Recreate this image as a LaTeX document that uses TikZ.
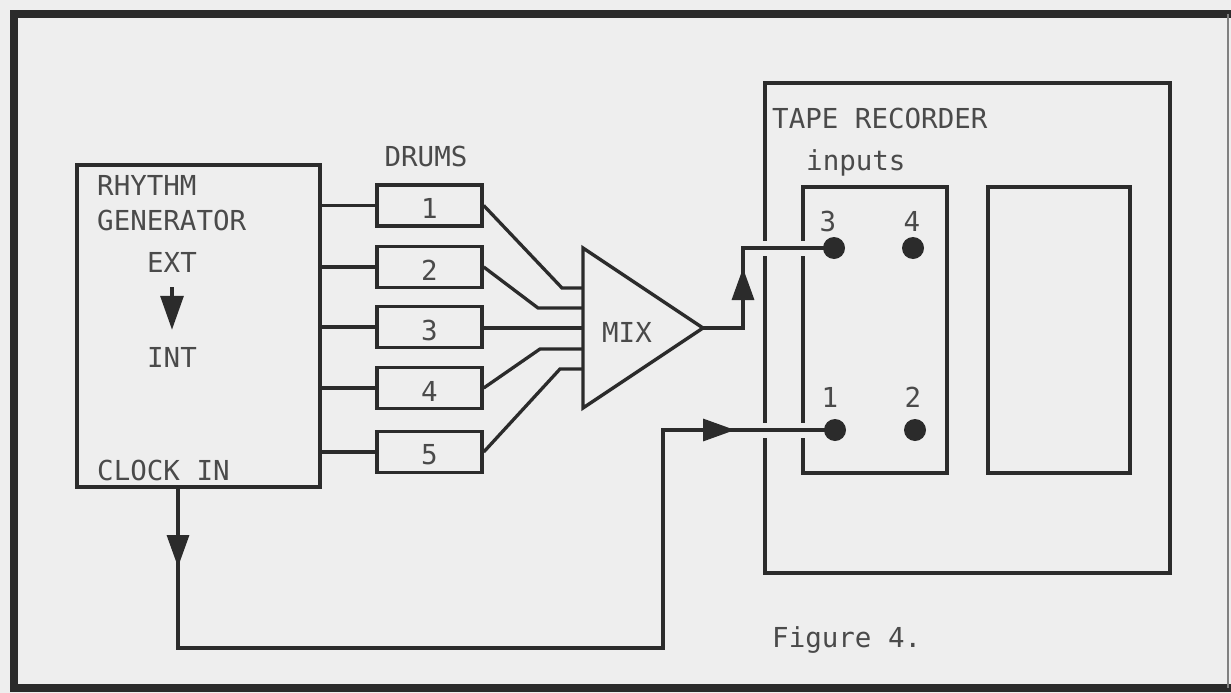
\documentclass[tikz,border=0pt]{standalone}
\usepackage{fontspec}
\setmonofont{DejaVu Sans Mono}
\usetikzlibrary{arrows.meta}
\definecolor{paper}{HTML}{EEEEEE}
\definecolor{ink}{HTML}{2B2B2B}
\definecolor{txt}{HTML}{4A4A4A}
\begin{document}
\begin{tikzpicture}[x=1pt,y=-1pt,
  wire/.style={draw=ink,line width=3.3pt},
  boxline/.style={draw=ink,line width=3.4pt},
  lbl/.style={font=\ttfamily\fontsize{27.5}{30}\selectfont,text=txt,inner sep=0pt},
  lblw/.style={lbl,anchor=base west},
  lblb/.style={lbl,anchor=base},
  gap/.style={draw=paper,line width=15pt},
  tip/.style={-{Triangle[length=32pt,width=22pt]}},
  dotn/.style={circle,fill=ink,minimum size=22pt,inner sep=0pt},
  box/.style={boxline,rectangle,inner sep=0pt},
]
\fill[paper] (0,0) rectangle (1231,693);
\useasboundingbox (0,0) rectangle (1231,693);

% outer frame
\draw[ink,line width=8pt] (1240,14) -- (14,14) -- (14,688) -- (1240,688);
\draw[ink!60,line width=1.2pt] (1228,14) -- (1228,688);

% rhythm generator
\node[box,minimum width=243pt,minimum height=322pt] (gen) at (198.5,326) {};
\node[lblw] (rh) at (97,195) {RHYTHM};
\node[lblw] (ge) at (97,230) {GENERATOR};
\node[lblb] (ext) at (172,272) {EXT};
\node[lblb] (int) at (172,367) {INT};
\draw[wire,-{Triangle[length=34pt,width=23pt]}] ([yshift=-15pt]ext.south) -- ([yshift=17pt]int.north);
\node[lblw] (clkin) at (97,480) {CLOCK IN};

% drums
\node[lblb] (drums) at (426,166) {DRUMS};
\foreach \i/\y in {1/205.5,2/267,3/327,4/388,5/452}{
  \node[box,minimum width=105pt,minimum height=41pt,
        label={[lbl,yshift=-3pt]center:\i}] (d\i) at (429.5,\y) {};
  \draw[wire] (gen.east |- d\i.west) -- (d\i.west);
}

% mixer
\coordinate (mixtop) at (583,248);
\coordinate (mixbot) at (583,408);
\coordinate (mixtip) at (703,328);
\draw[boxline,line join=miter] (mixtop) -- (mixtip) -- (mixbot) -- cycle;
\node[lblb] (mix) at (627,342) {MIX};
\coordinate (m1) at (583,288);
\coordinate (m2) at (583,308);
\coordinate (m3) at (583,328);
\coordinate (m4) at (583,349);
\coordinate (m5) at (583,369);
\draw[wire] (d1.east) -- (562,288) -- (m1);
\draw[wire] (d2.east) -- (538,308) -- (m2);
\draw[wire] (d3.east |- m3) -- (m3);
\draw[wire] (d4.east) -- (540,349) -- (m4);
\draw[wire] (d5.east) -- (560,369) -- (m5);

% tape recorder
\node[box,minimum width=405pt,minimum height=490pt] (tape) at (967.5,328) {};
\node[lblw] (taplbl) at (772,128) {TAPE RECORDER};
\node[lblw] (inlbl) at (806,170) {inputs};
\node[box,minimum width=144pt,minimum height=286pt] (inbox) at (875,330) {};
\node[box,minimum width=142pt,minimum height=286pt] (rbox) at (1059,330) {};

\coordinate (p3) at (834,248);
\coordinate (p4) at (913,248);
\coordinate (p1) at (835,430);
\coordinate (p2) at (915,430);

% wires into tape recorder
\coordinate (outc) at (743,328);
\coordinate (outup) at (743,248);
\coordinate (clk) at (178,487);
\coordinate (ck1) at (178,648);
\coordinate (ck2) at (663,648);
\coordinate (ck3) at (663,430);

\draw[gap] ([xshift=8pt]outup) -- (p3);
\draw[gap] ([xshift=8pt]ck3) -- (p1);

\draw[wire] (mixtip) -- (outc) -- (outup) -- (p3);
\draw[wire,tip] (outc) -- (743,268);
\draw[wire] (clk) -- (ck1) -- (ck2) -- (ck3) -- (p1);
\draw[wire,tip] (clk) -- (178,567);
\draw[wire,tip] (ck3) -- (735,430);

% input jacks
\node[dotn] (j3) at (p3) {};
\node[dotn] (j4) at (p4) {};
\node[dotn] (j1) at (p1) {};
\node[dotn] (j2) at (p2) {};
\node[lblb] (l3) at (828,231) {3};
\node[lblb] (l4) at (912,231) {4};
\node[lblb] (l1) at (830,407) {1};
\node[lblb] (l2) at (913,407) {2};

\node[lblw] (fig) at (772,647) {Figure 4.};
\end{tikzpicture}
\end{document}
